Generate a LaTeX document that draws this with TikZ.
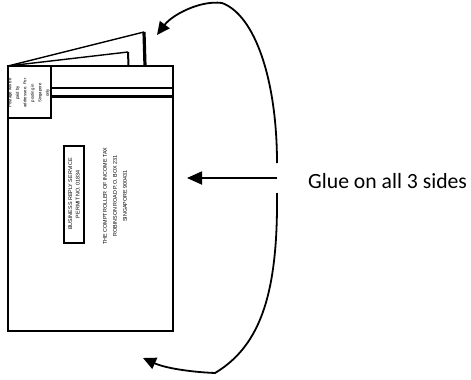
\documentclass[tikz,border=0pt]{standalone}
\usepackage{fontspec}
\setmainfont{Liberation Sans}
\newfontfamily\calfont{Carlito}
\usetikzlibrary{arrows.meta}
\tikzset{
  thinline/.style={line width=1.4pt, line join=miter},
  thickline/.style={line width=2.8pt},
  vtext/.style={rotate=90, align=center, inner sep=0pt},
  arc/.style={line width=1.8pt, -{Triangle[length=13pt,width=12pt]}},
  gluearrow/.style={line width=1.8pt, -{Triangle[length=15pt,width=13pt]}}
}
\begin{document}
\begin{tikzpicture}[x=1pt,y=-1pt]
\useasboundingbox (0,0) rectangle (471,380);
% envelope body
\coordinate (envTL) at (8,66);
\coordinate (envBR) at (173,331);
\draw[thinline] (envTL) rectangle (envBR);
% flaps
\coordinate (outerTop) at (144,32);
\coordinate (outerBot) at (145,66);
\coordinate (innerTop) at (128,52);
\coordinate (innerBot) at (128.5,66);
\draw[thinline] (envTL) -- (outerTop);
\draw[line width=3.2pt] (outerTop) -- (outerBot);
\draw[thinline] (12,65.5) -- (innerTop);
\draw[line width=2pt] (innerTop) -- (innerBot);
% stamp box
\draw[line width=1.2pt] (envTL) rectangle (51,118);
\node[vtext, font=\fontsize{4.3}{7.5}\selectfont] (stamp) at (29,93) {Postage will be\\paid by\\addressee. For\\posting in\\Singapore\\only};
% double lines
\coordinate (l1a) at (51,88); \coordinate (l1b) at (173,88);
\coordinate (l2a) at (51,96.5); \coordinate (l2b) at (173,96.5);
\draw[thickline] (l1a) -- (l1b);
\draw[thickline] (l2a) -- (l2b);
% business reply box
\draw[line width=1.8pt] (64,146) rectangle (84,243);
\node[vtext, font=\fontsize{5.4}{7.5}\selectfont] (brs) at (74,194) {BUSINESS REPLY SERVICE\\PERMIT NO. 01834};
% address
\node[vtext, font=\fontsize{5.4}{10}\selectfont] (addr) at (115,196) {THE COMPTROLLER OF INCOME TAX\\ROBINSON ROAD P.O. BOX 231\\SINGAPORE 900431};
% glue label and arrow
\node[anchor=base west, inner sep=0pt, font=\calfont\fontsize{21.7}{24}\selectfont] (glue) at (308,188) {Glue on all 3 sides};
\coordinate (gStart) at (277,178);
\coordinate (gTip) at (187,178);
\draw[gluearrow] (gStart) -- (gTip);
% curved arrows
\coordinate (upStart) at (277,163);
\coordinate (topPeak) at (222,3);
\coordinate (topTip) at (157,35);
\draw[arc] (upStart) .. controls (277,80) and (255,15) .. (topPeak) .. controls (200,0) and (172,15) .. (topTip);
\coordinate (lowStart) at (277,193);
\coordinate (botCorner) at (215,373);
\coordinate (botTip) at (143,358);
\draw[arc] (lowStart) .. controls (278,290) and (262,345) .. (botCorner) .. controls (190,372) and (165,368) .. (botTip);
\end{tikzpicture}
\end{document}
